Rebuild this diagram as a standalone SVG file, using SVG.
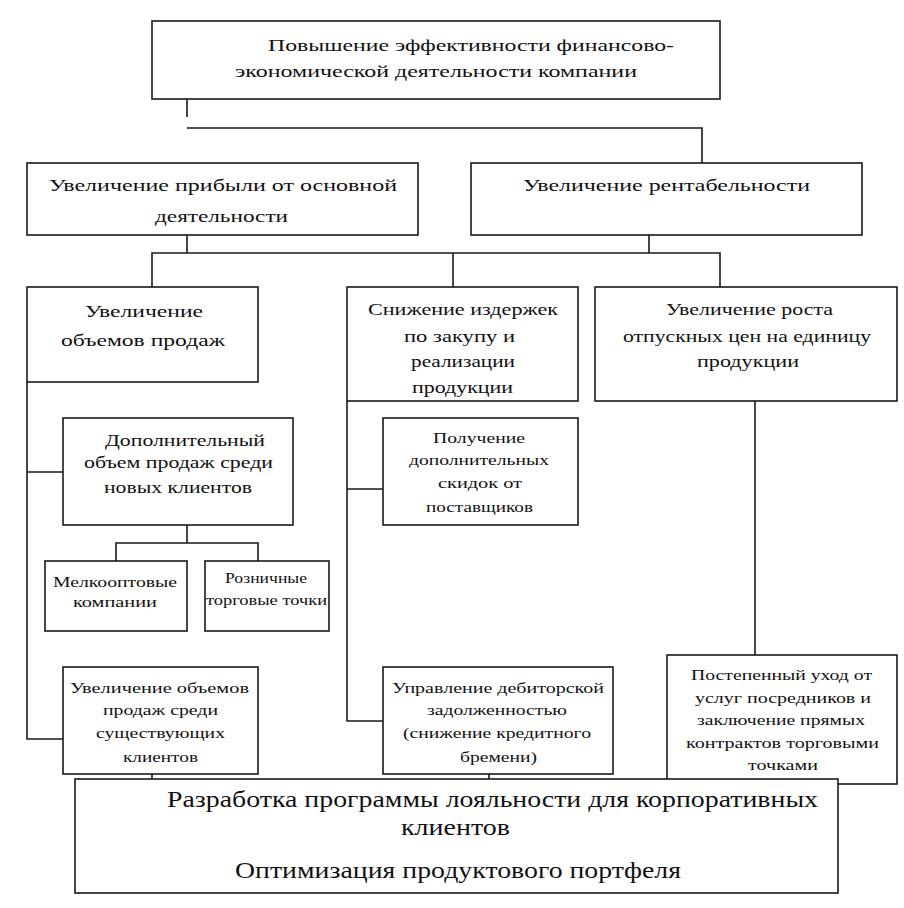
<svg xmlns="http://www.w3.org/2000/svg" width="904" height="908" viewBox="0 0 904 908">
<style>
.b{fill:#fff;stroke:#1a1a1a;stroke-width:1.6}
.c{fill:none;stroke:#1a1a1a;stroke-width:1.6}
.t17{font-size:17px}
.t16{font-size:16px}
.t15{font-size:15px}
.t14{font-size:14px}
.t24{font-size:24px}
</style>
<rect width="904" height="908" fill="#fff"/>
<g id="connectors">
<path class="c" d="M187 99V117M187 128H702V163"/>
<path class="c" d="M187 235V253M649 235V253M152 288V253H720V288M453 253V288"/>
<path class="c" d="M27 382V739H63M27 472H63"/>
<path class="c" d="M187 525V543M116 561V543H258V561"/>
<path class="c" d="M347 401V721H383M347 489H383"/>
<path class="c" d="M755 401V655"/>
<path class="c" d="M152 774V779M489 774V779"/>
</g>
<g font-family="'Liberation Serif', 'Times New Roman', serif" fill="#111">
<g id="n_top">
<rect class="b" x="152" y="21" width="568" height="78"/>
<text class="t17" x="268" y="51" textLength="406" lengthAdjust="spacingAndGlyphs">Повышение эффективности финансово-</text>
<text class="t17" x="235" y="77" textLength="402" lengthAdjust="spacingAndGlyphs">экономической деятельности компании</text>
</g>
<g id="n_profit">
<rect class="b" x="27" y="163" width="391" height="72"/>
<text class="t17" x="49" y="191" textLength="348" lengthAdjust="spacingAndGlyphs">Увеличение прибыли от основной</text>
<text class="t17" x="155" y="222" textLength="133" lengthAdjust="spacingAndGlyphs">деятельности</text>
</g>
<g id="n_rent">
<rect class="b" x="471" y="163" width="391" height="72"/>
<text class="t17" x="523" y="191" textLength="287" lengthAdjust="spacingAndGlyphs">Увеличение рентабельности</text>
</g>
<g id="n_sales">
<rect class="b" x="27" y="287" width="231" height="95"/>
<text class="t17" x="85" y="317" textLength="118" lengthAdjust="spacingAndGlyphs">Увеличение</text>
<text class="t17" x="61" y="346" textLength="164" lengthAdjust="spacingAndGlyphs">объемов продаж</text>
</g>
<g id="n_costs">
<rect class="b" x="347" y="287" width="231" height="114"/>
<text class="t17" x="368" y="315" textLength="190" lengthAdjust="spacingAndGlyphs">Снижение издержек</text>
<text class="t17" x="404" y="342" textLength="111" lengthAdjust="spacingAndGlyphs">по закупу и</text>
<text class="t17" x="411" y="367" textLength="104" lengthAdjust="spacingAndGlyphs">реализации</text>
<text class="t17" x="412" y="393" textLength="101" lengthAdjust="spacingAndGlyphs">продукции</text>
</g>
<g id="n_prices">
<rect class="b" x="595" y="287" width="302" height="114"/>
<text class="t17" x="666" y="315" textLength="167" lengthAdjust="spacingAndGlyphs">Увеличение роста</text>
<text class="t17" x="623" y="342" textLength="248" lengthAdjust="spacingAndGlyphs">отпускных цен на единицу</text>
<text class="t17" x="697" y="367" textLength="102" lengthAdjust="spacingAndGlyphs">продукции</text>
</g>
<g id="n_new">
<rect class="b" x="63" y="418" width="230" height="107"/>
<text class="t16" x="105" y="446" textLength="160" lengthAdjust="spacingAndGlyphs">Дополнительный</text>
<text class="t16" x="84" y="468" textLength="189" lengthAdjust="spacingAndGlyphs">объем продаж среди</text>
<text class="t16" x="104" y="493" textLength="148" lengthAdjust="spacingAndGlyphs">новых клиентов</text>
</g>
<g id="n_disc">
<rect class="b" x="383" y="418" width="195" height="107"/>
<text class="t14" x="433" y="443" textLength="92" lengthAdjust="spacingAndGlyphs">Получение</text>
<text class="t14" x="409" y="465" textLength="140" lengthAdjust="spacingAndGlyphs">дополнительных</text>
<text class="t14" x="438" y="488" textLength="84" lengthAdjust="spacingAndGlyphs">скидок от</text>
<text class="t14" x="426" y="512" textLength="107" lengthAdjust="spacingAndGlyphs">поставщиков</text>
</g>
<g id="n_wholesale">
<rect class="b" x="45" y="561" width="142" height="70"/>
<text class="t14" x="53" y="587" textLength="124" lengthAdjust="spacingAndGlyphs">Мелкооптовые</text>
<text class="t14" x="73" y="607" textLength="84" lengthAdjust="spacingAndGlyphs">компании</text>
</g>
<g id="n_retail">
<rect class="b" x="205" y="561" width="124" height="70"/>
<text class="t14" x="225" y="583" textLength="82" lengthAdjust="spacingAndGlyphs">Розничные</text>
<text class="t14" x="206" y="605" textLength="121" lengthAdjust="spacingAndGlyphs">торговые точки</text>
</g>
<g id="n_exist">
<rect class="b" x="63" y="667" width="195" height="107"/>
<text class="t15" x="70" y="693" textLength="179" lengthAdjust="spacingAndGlyphs">Увеличение объемов</text>
<text class="t15" x="103" y="715" textLength="115" lengthAdjust="spacingAndGlyphs">продаж среди</text>
<text class="t15" x="96" y="738" textLength="129" lengthAdjust="spacingAndGlyphs">существующих</text>
<text class="t15" x="123" y="762" textLength="75" lengthAdjust="spacingAndGlyphs">клиентов</text>
</g>
<g id="n_debt">
<rect class="b" x="383" y="667" width="230" height="107"/>
<text class="t15" x="392" y="693" textLength="212" lengthAdjust="spacingAndGlyphs">Управление дебиторской</text>
<text class="t15" x="427" y="715" textLength="140" lengthAdjust="spacingAndGlyphs">задолженностью</text>
<text class="t15" x="403" y="738" textLength="188" lengthAdjust="spacingAndGlyphs">(снижение кредитного</text>
<text class="t15" x="460" y="762" textLength="77" lengthAdjust="spacingAndGlyphs">бремени)</text>
</g>
<g id="n_direct">
<rect class="b" x="667" y="655" width="230" height="129"/>
<text class="t15" x="691" y="680" textLength="181" lengthAdjust="spacingAndGlyphs">Постепенный уход от</text>
<text class="t15" x="695" y="703" textLength="176" lengthAdjust="spacingAndGlyphs">услуг посредников и</text>
<text class="t15" x="697" y="725" textLength="168" lengthAdjust="spacingAndGlyphs">заключение прямых</text>
<text class="t15" x="686" y="748" textLength="193" lengthAdjust="spacingAndGlyphs">контрактов торговыми</text>
<text class="t15" x="748" y="770" textLength="70" lengthAdjust="spacingAndGlyphs">точками</text>
</g>
<g id="n_bottom">
<rect class="b" x="75" y="779" width="763" height="114"/>
<text class="t24" x="167" y="807" textLength="651" lengthAdjust="spacingAndGlyphs">Разработка программы лояльности для корпоративных</text>
<text class="t24" x="401" y="835" textLength="109" lengthAdjust="spacingAndGlyphs">клиентов</text>
<text class="t24" x="235" y="878" textLength="446" lengthAdjust="spacingAndGlyphs">Оптимизация продуктового портфеля</text>
</g>
</g>
</svg>
